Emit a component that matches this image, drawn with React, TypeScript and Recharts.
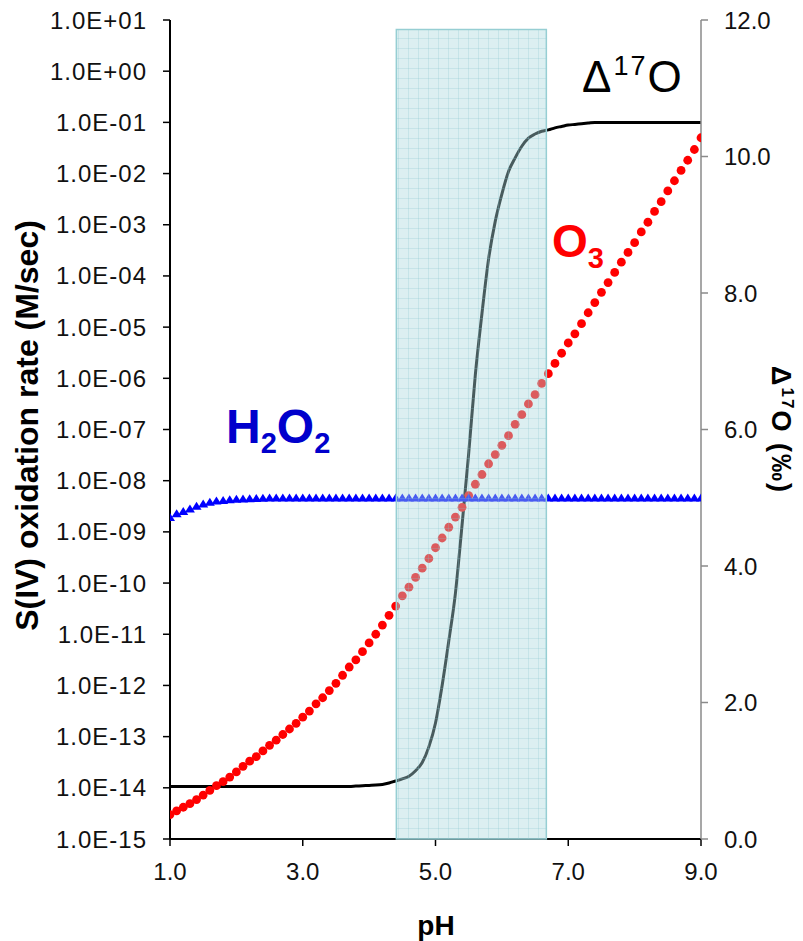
import React from "react";
import {
  ComposedChart,
  Line,
  XAxis,
  YAxis,
  ReferenceArea,
} from "recharts";

// pH grid (categories)
const PH = [
  1.0, 1.1, 1.2, 1.3, 1.4, 1.5, 1.6, 1.7, 1.8, 1.9,
  2.0, 2.1, 2.2, 2.3, 2.4, 2.5, 2.6, 2.7, 2.8, 2.9,
  3.0, 3.1, 3.2, 3.3, 3.4, 3.5, 3.6, 3.7, 3.8, 3.9,
  4.0, 4.1, 4.2, 4.3, 4.4, 4.5, 4.6, 4.7, 4.8, 4.9,
  5.0, 5.1, 5.2, 5.3, 5.4, 5.5, 5.6, 5.7, 5.8, 5.9,
  6.0, 6.1, 6.2, 6.3, 6.4, 6.5, 6.6, 6.7, 6.8, 6.9,
  7.0, 7.1, 7.2, 7.3, 7.4, 7.5, 7.6, 7.7, 7.8, 7.9,
  8.0, 8.1, 8.2, 8.3, 8.4, 8.5, 8.6, 8.7, 8.8, 8.9,
  9.0,
];

// S(IV) oxidation rate by O3 (M/sec)
const O3_RATE = [
  3.0e-15, 3.55e-15, 4.17e-15, 4.9e-15, 5.9e-15, 7.2e-15, 8.9e-15, 1.1e-14, 1.32e-14, 1.62e-14,
  2.04e-14, 2.63e-14, 3.31e-14, 4.07e-14, 5.25e-14, 6.76e-14, 8.51e-14, 1.1e-13, 1.41e-13, 1.82e-13,
  2.4e-13, 3.16e-13, 4.37e-13, 5.75e-13, 7.94e-13, 1.1e-12, 1.58e-12, 2.29e-12, 3.16e-12, 4.57e-12,
  6.76e-12, 1.0e-11, 1.51e-11, 2.34e-11, 3.55e-11, 5.62e-11, 8.3e-11, 1.29e-10, 1.95e-10, 3.02e-10,
  4.9e-10, 7.59e-10, 1.23e-9, 1.95e-9, 3.02e-9, 5.13e-9, 8.51e-9, 1.32e-8, 2.14e-8, 3.24e-8,
  4.9e-8, 7.59e-8, 1.26e-7, 1.95e-7, 3.16e-7, 4.79e-7, 7.94e-7, 1.23e-6, 1.95e-6, 3.09e-6,
  4.9e-6, 7.41e-6, 1.17e-5, 1.91e-5, 3.02e-5, 4.79e-5, 7.41e-5, 1.17e-4, 1.86e-4, 2.88e-4,
  4.47e-4, 7.24e-4, 1.12e-3, 1.82e-3, 2.82e-3, 4.57e-3, 7.24e-3, 1.15e-2, 1.82e-2, 2.95e-2,
  5.01e-2,
];

// S(IV) oxidation rate by H2O2 (M/sec)
const H2O2_RATE = [
  1.9e-9, 2.25e-9, 2.5e-9, 2.8e-9, 3.15e-9, 3.5e-9, 3.8e-9, 4.0e-9, 4.1e-9, 4.25e-9,
  4.35e-9, 4.4e-9, 4.45e-9, 4.5e-9, 4.55e-9, 4.6e-9, 4.6e-9, 4.6e-9, 4.6e-9, 4.6e-9,
  4.6e-9, 4.6e-9, 4.6e-9, 4.6e-9, 4.6e-9, 4.6e-9, 4.6e-9, 4.6e-9, 4.6e-9, 4.6e-9,
  4.6e-9, 4.6e-9, 4.6e-9, 4.6e-9, 4.6e-9, 4.6e-9, 4.6e-9, 4.6e-9, 4.6e-9, 4.6e-9,
  4.6e-9, 4.6e-9, 4.6e-9, 4.6e-9, 4.6e-9, 4.6e-9, 4.6e-9, 4.6e-9, 4.6e-9, 4.6e-9,
  4.6e-9, 4.6e-9, 4.6e-9, 4.6e-9, 4.6e-9, 4.6e-9, 4.6e-9, 4.6e-9, 4.6e-9, 4.6e-9,
  4.6e-9, 4.6e-9, 4.6e-9, 4.6e-9, 4.6e-9, 4.6e-9, 4.6e-9, 4.6e-9, 4.6e-9, 4.6e-9,
  4.6e-9, 4.6e-9, 4.6e-9, 4.6e-9, 4.6e-9, 4.6e-9, 4.6e-9, 4.6e-9, 4.6e-9, 4.6e-9,
  4.6e-9,
];

// Δ17O of sulfate (‰)
const D17O = [
  0.77, 0.77, 0.77, 0.77, 0.77, 0.77, 0.77, 0.77, 0.77, 0.77,
  0.77, 0.77, 0.77, 0.77, 0.77, 0.77, 0.77, 0.77, 0.77, 0.77,
  0.77, 0.77, 0.77, 0.77, 0.77, 0.77, 0.77, 0.77, 0.775, 0.78,
  0.785, 0.79, 0.8, 0.82, 0.85, 0.88, 0.92, 1.0, 1.12, 1.35,
  1.7, 2.25, 2.9, 3.6, 4.6, 5.65, 6.8, 7.7, 8.5, 9.05,
  9.45, 9.78, 9.98, 10.15, 10.27, 10.33, 10.37, 10.39, 10.42, 10.44,
  10.46, 10.47, 10.48, 10.49, 10.5, 10.5, 10.5, 10.5, 10.5, 10.5,
  10.5, 10.5, 10.5, 10.5, 10.5, 10.5, 10.5, 10.5, 10.5, 10.5,
  10.5,
];

// ticks
const X_TICKS = [1, 3, 5, 7, 9];
const LEFT_TICKS = [
  1e-15, 1e-14, 1e-13, 1e-12, 1e-11, 1e-10, 1e-9, 1e-8, 1e-7, 1e-6, 1e-5,
  1e-4, 1e-3, 1e-2, 1e-1, 1e0, 1e1,
];
const RIGHT_TICKS = [0, 2, 4, 6, 8, 10, 12];

// shaded pH window
const SHADE_PH = [4.41, 6.67];
const SHADE_TOP = 11.86;

const data = PH.map((ph, i) => ({
  ph,
  o3: O3_RATE[i],
  h2o2: H2O2_RATE[i],
  d17: D17O[i],
}));

const FONT = "'Liberation Sans', Arial, Helvetica, sans-serif";

const fmtSci = (v: number) => {
  const e = Math.round(Math.log10(v));
  const sign = e < 0 ? "-" : "+";
  const a = Math.abs(e);
  return `1.0E${sign}${a < 10 ? "0" + a : a}`;
};

const Triangle = (props: any) => {
  const { cx, cy, index } = props;
  if (cx == null || cy == null) return <g key={`t-${index}`} />;
  return (
    <polygon
      key={`t-${index}`}
      points={`${cx},${cy - 4.5} ${cx - 5},${cy + 3.5} ${cx + 5},${cy + 3.5}`}
      fill="#0000FF"
    />
  );
};

export default function App() {
  return (
    <div style={{ position: "relative", width: 795, height: 933, background: "#fff" }}>
      <ComposedChart
        width={795}
        height={933}
        data={data}
        margin={{ top: 12, right: 0, bottom: 0, left: 0 }}
      >
        <defs>
          <pattern id="shadeGrid" width="10" height="10" patternUnits="userSpaceOnUse">
            <rect width="10" height="10" fill="rgb(172,216,221)" fillOpacity="0.42" />
            <path d="M10 0 L0 0 0 10" stroke="rgb(130,196,202)" strokeOpacity="0.5" strokeWidth="1" fill="none" />
          </pattern>
        </defs>
        <XAxis
          dataKey="ph"
          type="number"
          domain={[1, 9]}
          ticks={X_TICKS}
          tickFormatter={(v: number) => v.toFixed(1)}
          height={102}
          axisLine={{ stroke: "#000", strokeWidth: 2 }}
          tickLine={{ stroke: "#000", strokeWidth: 1.5 }}
          tickSize={7}
          tickMargin={17}
          tick={{ fill: "#111", fontSize: 24, fontFamily: FONT }}
          allowDataOverflow
        />
        <YAxis
          yAxisId="left"
          orientation="left"
          scale="log"
          domain={[1e-15, 10]}
          ticks={LEFT_TICKS}
          tickFormatter={fmtSci}
          width={162}
          axisLine={{ stroke: "#000", strokeWidth: 2 }}
          tickLine={{ stroke: "#000", strokeWidth: 1.5 }}
          tickSize={7}
          tickMargin={16}
          tick={{ fill: "#111", fontSize: 24, fontFamily: FONT, letterSpacing: 1 }}
          allowDataOverflow
          interval={0}
        />
        <YAxis
          yAxisId="right"
          orientation="right"
          type="number"
          domain={[0, 12]}
          ticks={RIGHT_TICKS}
          tickFormatter={(v: number) => v.toFixed(1)}
          width={102}
          axisLine={{ stroke: "#8a8a8a", strokeWidth: 1.5 }}
          tickLine={{ stroke: "#8a8a8a", strokeWidth: 1.5 }}
          tickSize={7}
          tickMargin={16}
          tick={{ fill: "#111", fontSize: 24, fontFamily: FONT }}
          interval={0}
        />
        <Line
          yAxisId="left"
          dataKey="o3"
          stroke="none"
          isAnimationActive={false}
          dot={{ r: 4.4, fill: "#FF0000", stroke: "none" }}
          activeDot={false}
        />
        <Line
          yAxisId="left"
          dataKey="h2o2"
          stroke="none"
          isAnimationActive={false}
          dot={Triangle}
          activeDot={false}
        />
        <Line
          yAxisId="right"
          dataKey="d17"
          type="monotone"
          stroke="#000"
          strokeWidth={3}
          dot={false}
          activeDot={false}
          isAnimationActive={false}
        />
        <ReferenceArea
          yAxisId="right"
          x1={SHADE_PH[0]}
          x2={SHADE_PH[1]}
          y1={0}
          y2={SHADE_TOP}
          fill="url(#shadeGrid)"
          fillOpacity={1}
          stroke="rgb(150,206,211)"
          strokeWidth={1.5}
          ifOverflow="visible"
          {...({ zIndex: 1000 } as any)}
        />
      </ComposedChart>
      <svg
        width={795}
        height={933}
        style={{ position: "absolute", left: 0, top: 0, pointerEvents: "none" }}
        fontFamily={FONT}
      >
        <text
          transform="translate(30,417.5) rotate(-90)"
          textAnchor="middle"
          fontSize={32}
          fontWeight="bold"
          fill="#000"
        >
          S(IV) oxidation rate (M/sec)
        </text>
        <text
          transform="translate(764,422) rotate(90)"
          textAnchor="middle"
          fontSize={27}
          fontWeight="bold"
          fill="#000"
          letterSpacing={2}
        >
          Δ<tspan fontSize={17} dy={-10}>17</tspan>
          <tspan dy={10}>O (‰)</tspan>
        </text>
        <text x={428} y={927} textAnchor="middle" fontSize={28} fontWeight="bold" fill="#000">
          pH
        </text>
        <text x={574} y={84} fontSize={44} fill="#000" letterSpacing={2}>
          Δ<tspan fontSize={27} dy={-17}>17</tspan>
          <tspan dy={17}>O</tspan>
        </text>
        <text x={544} y={249} fontSize={46} fontWeight="bold" fill="#FF0000">
          O<tspan fontSize={29} dy={11}>3</tspan>
        </text>
        <text x={218} y={435} fontSize={48} fontWeight="bold" fill="#0000CC">
          H<tspan fontSize={29} dy={10}>2</tspan>
          <tspan fontSize={48} dy={-10}>O</tspan>
          <tspan fontSize={29} dy={10}>2</tspan>
        </text>
      </svg>
    </div>
  );
}
